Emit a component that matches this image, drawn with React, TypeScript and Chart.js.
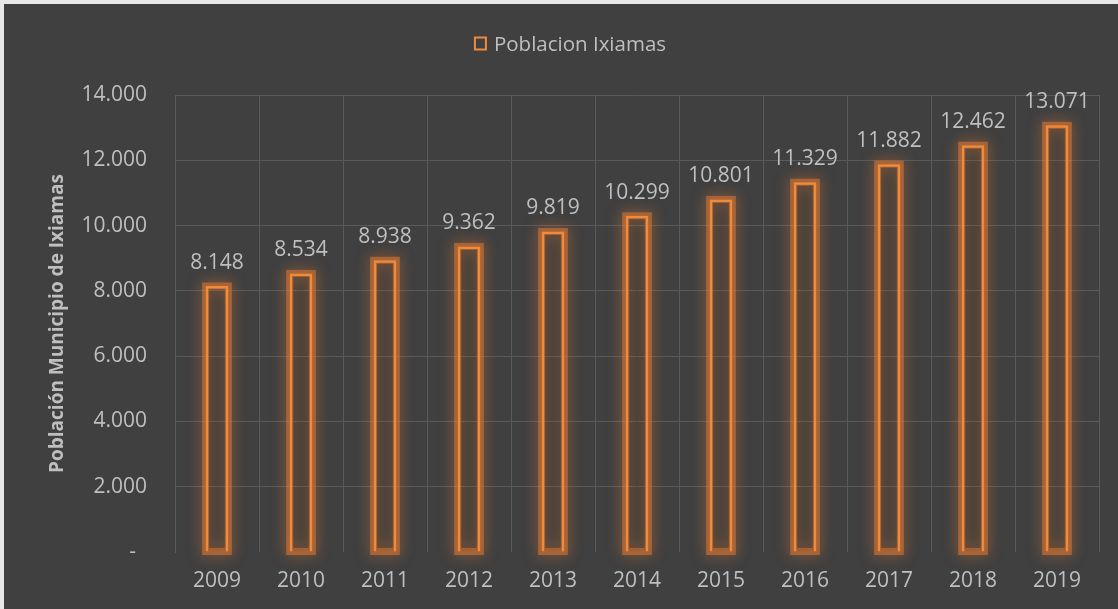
import React, { useEffect, useRef } from "react";
import { Chart, registerables } from "chart.js";

Chart.register(...registerables);

const categories = ["2009", "2010", "2011", "2012", "2013", "2014", "2015", "2016", "2017", "2018", "2019"];
const poblacion = [8148, 8534, 8938, 9362, 9819, 10299, 10801, 11329, 11882, 12462, 13071];
const seriesName = "Poblacion Ixiamas";
const yTitle = "Población Municipio de Ixiamas";

const TEXT = "#bfbfbf";
const GRID = "#5a5a5a";
const ORANGE = "#F28A3C";
const FONT = "'Open Sans', sans-serif";

function fmt(v: number): string {
  return String(Math.round(v)).replace(/\B(?=(\d{3})+(?!\d))/g, ".");
}

const glowPlugin = {
  id: "glow",
  beforeDatasetsDraw(chart: any) {
    const ctx = chart.ctx;
    const meta = chart.getDatasetMeta(0);
    ctx.save();
    meta.data.forEach((bar: any) => {
      const { x, y, base, width } = bar.getProps(["x", "y", "base", "width"], true);
      ctx.shadowColor = "rgba(237,125,49,1)";
      ctx.shadowBlur = 14;
      ctx.strokeStyle = "rgba(237,125,49,0.5)";
      ctx.lineWidth = 7;
      ctx.strokeRect(x - width / 2, y, width, base - y);
    });
    ctx.restore();
  },
};

const labelPlugin = {
  id: "valueLabels",
  afterDatasetsDraw(chart: any) {
    const ctx = chart.ctx;
    const meta = chart.getDatasetMeta(0);
    const data = chart.data.datasets[0].data as number[];
    ctx.save();
    ctx.fillStyle = TEXT;
    ctx.font = `21px ${FONT}`;
    ctx.textAlign = "center";
    ctx.textBaseline = "alphabetic";
    meta.data.forEach((bar: any, i: number) => {
      const { x, y } = bar.getProps(["x", "y"], true);
      ctx.fillText(fmt(data[i]), x, y - 17);
    });
    ctx.restore();
  },
};

const legendPlugin = {
  id: "customLegend",
  afterDraw(chart: any) {
    const ctx = chart.ctx;
    ctx.save();
    ctx.font = `20.5px ${FONT}`;
    const tw = ctx.measureText(seriesName).width;
    const box = 13;
    const gap = 7;
    const total = box + gap + tw;
    const cx = 566;
    const left = cx - total / 2;
    const cy = 40;
    ctx.strokeStyle = ORANGE;
    ctx.lineWidth = 2;
    ctx.strokeRect(left + 1, cy - box / 2, box - 2, box - 1);
    ctx.fillStyle = TEXT;
    ctx.textAlign = "left";
    ctx.textBaseline = "middle";
    ctx.fillText(seriesName, left + box + gap, cy + 1);
    ctx.restore();
  },
};

export default function App() {
  const ref = useRef<HTMLCanvasElement>(null);
  useEffect(() => {
    const chart = new Chart(ref.current!, {
      type: "bar",
      data: {
        labels: categories,
        datasets: [
          {
            label: seriesName,
            data: poblacion,
            backgroundColor: "rgba(0,0,0,0.04)",
            borderColor: ORANGE,
            borderWidth: 2.5,
            barPercentage: 0.27,
            categoryPercentage: 1,
          },
        ],
      },
      options: {
        animation: false,
        responsive: false,
        maintainAspectRatio: false,
        layout: { padding: { top: 91, right: 19, bottom: 0, left: 0 } },
        plugins: {
          legend: { display: false },
          tooltip: { enabled: false },
        },
        scales: {
          x: {
            grid: { display: true, offset: true, color: GRID, drawTicks: false, lineWidth: 1 },
            border: { display: false },
            ticks: { color: TEXT, font: { family: FONT, size: 21 }, padding: 16 },
            afterFit: (s: any) => {
              s.height = 57;
            },
          },
          y: {
            min: 0,
            max: 14000,
            ticks: {
              stepSize: 2000,
              color: TEXT,
              font: { family: FONT, size: 21 },
              padding: 28,
              callback: (v: any) => (Number(v) === 0 ? "-  " : fmt(Number(v))),
            },
            grid: {
              color: (c: any) => (c.tick && c.tick.value === 0 ? "rgba(0,0,0,0)" : GRID),
              drawTicks: false,
              lineWidth: 1,
            },
            border: { display: true, color: GRID },
            title: {
              display: true,
              text: yTitle,
              color: TEXT,
              font: { family: FONT, size: 19, weight: "bold" },
              padding: { top: 42, bottom: 0 },
            },
            afterFit: (s: any) => {
              s.width = 171;
            },
          },
        },
      },
      plugins: [glowPlugin, labelPlugin, legendPlugin],
    } as any);
    return () => chart.destroy();
  }, []);

  return (
    <div style={{ position: "fixed", left: 0, top: 0, width: 1118, height: 609, background: "#e8e8e8" }}>
      <div style={{ position: "absolute", left: 4, top: 4, width: 1114, height: 605, background: "#404040" }}>
        <canvas ref={ref} width={1114} height={605} style={{ display: "block", width: 1114, height: 605 }} />
      </div>
    </div>
  );
}
